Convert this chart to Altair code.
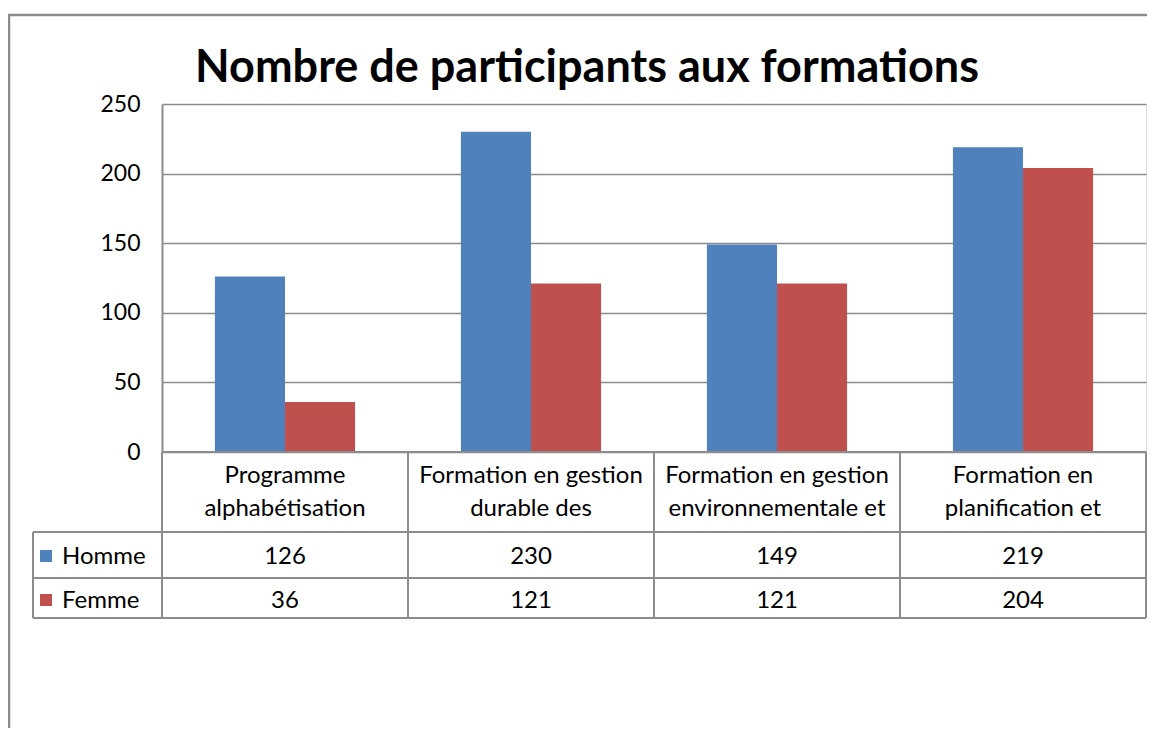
import altair as alt
import pandas as pd

# ---- data ----
categories = [
    "Programme alphabétisation",
    "Formation en gestion durable des",
    "Formation en gestion environnementale et",
    "Formation en planification et",
]
header_line1 = ["Programme", "Formation en gestion", "Formation en gestion", "Formation en"]
header_line2 = ["alphabétisation", "durable des", "environnementale et", "planification et"]
series = ["Homme", "Femme"]
homme = [126, 230, 149, 219]
femme = [36, 121, 121, 204]
colors = ["#4F81BD", "#C0504D"]
y_ticks = [0, 50, 100, 150, 200, 250]
title_text = "Nombre de participants aux formations"

rows = []
for i, c in enumerate(categories):
    rows.append({"cat": c, "series": "Homme", "value": homme[i]})
    rows.append({"cat": c, "series": "Femme", "value": femme[i]})
df = pd.DataFrame(rows)
hdr = pd.DataFrame({"cat": categories, "l1": header_line1, "l2": header_line2})
ser = pd.DataFrame({"series": series})
one = pd.DataFrame({"k": [0]})

# ---- layout ----
W, H = 984, 348
FONT = "Lato"
GRID = "#8c8c8c"
FS = 24
ROW_H = 453   # Homme row center
ROW_F = 497   # Femme row center
TL = -129     # table left edge
TR = W        # table right edge
TOP_HDR = H
Y_HOM = 428
Y_FEM = 474
Y_BOT = 514

xscale = alt.Scale(domain=categories, paddingInner=0, paddingOuter=0)
xenc = alt.X("cat:N", scale=xscale, axis=None, sort=categories)
color = alt.Color("series:N", scale=alt.Scale(domain=series, range=colors), legend=None)

bars = alt.Chart(df).mark_bar().encode(
    x=xenc,
    xOffset=alt.XOffset("series:N", sort=series,
                        scale=alt.Scale(domain=series, paddingOuter=0.755, paddingInner=0)),
    y=alt.Y("value:Q", scale=alt.Scale(domain=[0, 250], nice=False),
            axis=alt.Axis(values=y_ticks, title=None, grid=True, gridColor=GRID, gridWidth=1.6,
                          domain=True, domainColor=GRID, domainWidth=2, ticks=False,
                          labelFont=FONT, labelFontSize=23, labelColor="black", labelPadding=22)),
    color=color,
)

hdr1 = alt.Chart(hdr).mark_text(font=FONT, fontSize=FS, baseline="middle", color="black").encode(
    x=xenc, y=alt.value(372), text="l1:N")
hdr2 = alt.Chart(hdr).mark_text(font=FONT, fontSize=FS, baseline="middle", color="black").encode(
    x=xenc, y=alt.value(405), text="l2:N")

val_h = alt.Chart(df).transform_filter(alt.datum.series == "Homme").mark_text(
    font=FONT, fontSize=FS, baseline="middle", color="black").encode(
    x=xenc, y=alt.value(ROW_H), text="value:Q")
val_f = alt.Chart(df).transform_filter(alt.datum.series == "Femme").mark_text(
    font=FONT, fontSize=FS, baseline="middle", color="black").encode(
    x=xenc, y=alt.value(ROW_F), text="value:Q")

leg_h = alt.Chart(ser).transform_filter(alt.datum.series == "Homme").mark_rect().encode(
    x=alt.value(-122), x2=alt.value(-110), y=alt.value(ROW_H - 7), y2=alt.value(ROW_H + 5), color=color)
leg_f = alt.Chart(ser).transform_filter(alt.datum.series == "Femme").mark_rect().encode(
    x=alt.value(-122), x2=alt.value(-110), y=alt.value(ROW_F - 7), y2=alt.value(ROW_F + 5), color=color)
lab_h = alt.Chart(ser).transform_filter(alt.datum.series == "Homme").mark_text(
    font=FONT, fontSize=FS, baseline="middle", align="left", color="black").encode(
    x=alt.value(-100), y=alt.value(ROW_H), text="series:N")
lab_f = alt.Chart(ser).transform_filter(alt.datum.series == "Femme").mark_text(
    font=FONT, fontSize=FS, baseline="middle", align="left", color="black").encode(
    x=alt.value(-100), y=alt.value(ROW_F), text="series:N")

def hline(x1, x2, y, w=2):
    return alt.Chart(one).mark_rule(color=GRID, strokeWidth=w).encode(
        x=alt.value(x1), x2=alt.value(x2), y=alt.value(y))

def vline(x, y1, y2, w=2):
    return alt.Chart(one).mark_rule(color=GRID, strokeWidth=w).encode(
        x=alt.value(x), y=alt.value(y1), y2=alt.value(y2))

col_lines = alt.Chart(hdr).mark_rule(color=GRID, strokeWidth=2).encode(
    x=alt.X("cat:N", scale=xscale, axis=None, sort=categories, bandPosition=0),
    y=alt.value(TOP_HDR), y2=alt.value(Y_BOT))

# outer chart frame (top and left edges; it runs off the page right and bottom)
frame_top = hline(-154, W + 10, -89, 2.5)
frame_left = vline(-153, -90, 700, 2.5)

title = alt.Chart(one).mark_text(font=FONT, fontSize=45, fontWeight="bold", baseline="alphabetic",
                                 align="center", color="black").encode(
    x=alt.value(425), y=alt.value(-22), text=alt.value(title_text))

chart = alt.layer(
    frame_top, frame_left, bars,
    hline(0, TR, TOP_HDR), hline(TL, TR, Y_HOM), hline(TL, TR, Y_FEM), hline(TL, TR, Y_BOT),
    vline(TL, Y_HOM, Y_BOT), vline(TR, TOP_HDR, Y_BOT), col_lines,
    hdr1, hdr2, val_h, val_f, leg_h, leg_f, lab_h, lab_f, title,
).properties(
    width=W, height=H,
    autosize=alt.AutoSizeParams(type="none"),
    padding={"left": 154, "top": 96, "right": 1, "bottom": 276},
).configure_view(stroke=None).configure(background="white")

chart.save("out.html", embed_options={"renderer": "svg", "actions": False})
